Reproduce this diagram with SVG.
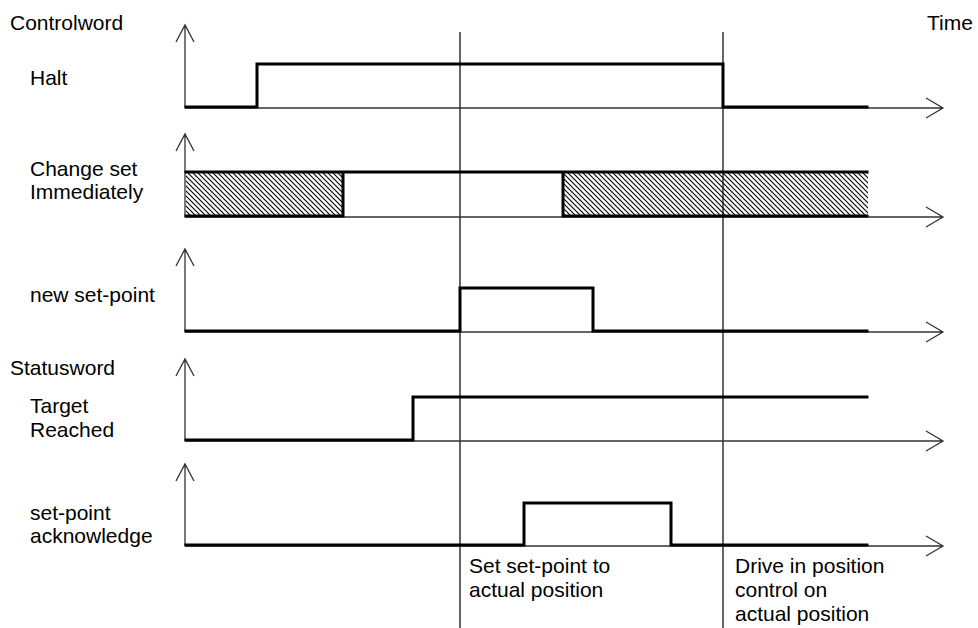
<svg xmlns="http://www.w3.org/2000/svg" width="978" height="628" viewBox="0 0 978 628">
<style>
text{font-family:"Liberation Sans",Arial,sans-serif;font-size:21px;fill:#000}
.ax{fill:none;stroke:#333;stroke-width:1.3}
.sig{fill:none;stroke:#000;stroke-width:3;stroke-linejoin:miter;stroke-linecap:square}
.tl{fill:none;stroke:#000;stroke-width:1.2}
</style>
<defs>
<pattern id="hatch" width="5" height="5" patternUnits="userSpaceOnUse">
<path d="M-1,-1 L6,6 M-1,4 L1,6 M4,-1 L6,1" stroke="#000" stroke-width="1.1"/>
</pattern>
</defs>
<rect width="978" height="628" fill="#fff"/>
<g id="labels">
<text x="10" y="30">Controlword</text>
<text x="927" y="30">Time</text>
<text x="10" y="375">Statusword</text>
</g>
<g id="timelines">
<line class="tl" x1="460" y1="32" x2="460" y2="628"/>
<line class="tl" x1="723" y1="32" x2="723" y2="628"/>
</g>
<g id="halt">
<text x="30" y="85">Halt</text>
<path class="ax" d="M185,108 V25 M176,42 L185,25 L194,42 M185,108 H943 M926,98 L943,108 L926,118"/>
<path class="sig" d="M186,107 H257 V64 H723 V107 H867"/>
</g>
<g id="changeset">
<text x="30" y="176">Change set</text>
<text x="30" y="199">Immediately</text>
<path class="ax" d="M185,217 V134 M176,151 L185,134 L194,151 M185,217 H943 M926,207 L943,217 L926,227"/>
<rect x="186" y="172" width="157" height="44" fill="url(#hatch)"/>
<rect x="563" y="172" width="305" height="44" fill="url(#hatch)"/>
<path class="sig" d="M186,172 H867 M186,216 H343 V172 M563,172 V216 H867"/>
</g>
<g id="newsetpoint">
<text x="30" y="302">new set-point</text>
<path class="ax" d="M185,332 V249 M176,266 L185,249 L194,266 M185,332 H943 M926,322 L943,332 L926,342"/>
<path class="sig" d="M186,331 H460 V288 H593 V331 H867"/>
</g>
<g id="targetreached">
<text x="30" y="413">Target</text>
<text x="30" y="437">Reached</text>
<path class="ax" d="M185,441 V359 M176,376 L185,359 L194,376 M185,441 H943 M926,431 L943,441 L926,451"/>
<path class="sig" d="M186,440 H413 V397 H867"/>
</g>
<g id="setpointack">
<text x="30" y="520">set-point</text>
<text x="30" y="543">acknowledge</text>
<path class="ax" d="M185,546 V464 M176,481 L185,464 L194,481 M185,546 H943 M926,536 L943,546 L926,556"/>
<path class="sig" d="M186,545 H524 V503 H671 V545 H867"/>
</g>
<g id="annotations">
<text x="469" y="573">Set set-point to</text>
<text x="469" y="597">actual position</text>
<text x="735" y="573">Drive in position</text>
<text x="735" y="597">control on</text>
<text x="735" y="621">actual position</text>
</g>
</svg>
